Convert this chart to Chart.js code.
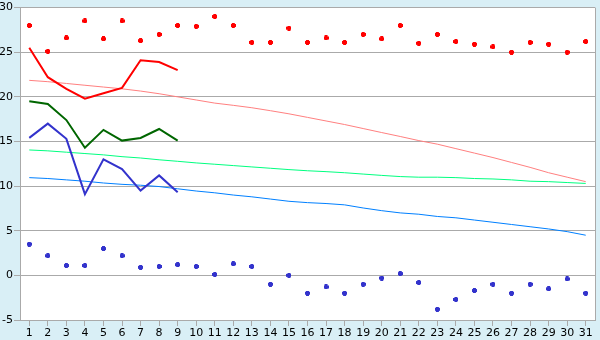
<!DOCTYPE html>
<html>
<head>
<meta charset="utf-8">
<script src="https://cdn.jsdelivr.net/npm/chart.js@4.4.0/dist/chart.umd.min.js"></script>
<style>
  html, body { margin: 0; padding: 0; background: #d9eff6; }
  #wrap { width: 600px; height: 340px; }
</style>
</head>
<body>
<div id="wrap"><canvas id="chart" width="600" height="340"></canvas></div>
<script>
// days of the month
var days = [];
for (var d = 1; d <= 31; d++) days.push(String(d));

// daily max / min (markers)
var maxPoints = [28.0, 25.1, 26.6, 28.5, 26.5, 28.5, 26.3, 27.0, 28.0, 27.9,
                 29.0, 28.0, 26.1, 26.1, 27.7, 26.1, 26.6, 26.1, 27.0, 26.5,
                 28.0, 26.0, 27.0, 26.2, 25.9, 25.6, 25.0, 26.1, 25.9, 25.0, 26.2];
var minPoints = [3.5, 2.2, 1.1, 1.1, 3.0, 2.2, 0.9, 1.0, 1.2, 1.0,
                 0.1, 1.3, 1.0, -1.0, 0.0, -2.0, -1.3, -2.0, -1.0, -0.3,
                 0.2, -0.8, -3.8, -2.7, -1.7, -1.0, -2.0, -1.0, -1.5, -0.4, -2.0];

// current month lines (days 1-9)
var maxLine  = [25.5, 22.2, 20.9, 19.8, 20.4, 21.0, 24.1, 23.9, 23.0];
var meanLine = [19.5, 19.2, 17.4, 14.3, 16.3, 15.1, 15.4, 16.4, 15.1];
var minLine  = [15.4, 17.0, 15.3, 9.1, 13.0, 11.9, 9.5, 11.2, 9.3];

// normals
var normMax  = [21.85, 21.7, 21.5, 21.3, 21.1, 20.9, 20.65, 20.35, 20.0, 19.65,
                19.3, 19.05, 18.78, 18.45, 18.1, 17.7, 17.3, 16.9, 16.45, 16.0,
                15.56, 15.1, 14.7, 14.2, 13.7, 13.2, 12.65, 12.1, 11.5, 11.0, 10.5];
var normMean = [14.05, 13.95, 13.8, 13.65, 13.5, 13.3, 13.15, 12.95, 12.78, 12.6,
                12.45, 12.3, 12.15, 12.0, 11.85, 11.72, 11.62, 11.5, 11.35, 11.2,
                11.07, 11.0, 11.0, 10.95, 10.85, 10.8, 10.7, 10.55, 10.5, 10.4, 10.3];
var normMin  = [10.95, 10.85, 10.7, 10.55, 10.35, 10.2, 10.1, 9.95, 9.7, 9.45,
                9.25, 9.0, 8.8, 8.55, 8.3, 8.15, 8.05, 7.9, 7.55, 7.25,
                7.0, 6.85, 6.6, 6.45, 6.2, 5.95, 5.7, 5.45, 5.2, 4.9, 4.5];

var yTicks = [-5, 0, 5, 10, 15, 20, 25, 30];

function marker(color) {
    var c = document.createElement('canvas');
    c.width = 5; c.height = 5;
    var g = c.getContext('2d');
    g.fillStyle = color;
    g.fillRect(1, 0, 3, 5);
    g.fillRect(0, 1, 5, 3);
    return c;
}

// white plot area + right border
var plotBg = {
    id: 'plotBg',
    beforeDraw: function(chart) {
        var a = chart.chartArea, ctx = chart.ctx;
        ctx.save();
        ctx.fillStyle = '#ffffff';
        ctx.fillRect(a.left, a.top, a.right - a.left, a.bottom - a.top);
        ctx.strokeStyle = '#aaaaaa';
        ctx.lineWidth = 1;
        ctx.beginPath();
        ctx.moveTo(Math.round(a.right) + 0.5, a.top);
        ctx.lineTo(Math.round(a.right) + 0.5, a.bottom);
        ctx.stroke();
        ctx.restore();
    }
};

function lineDs(data, color, width) {
    return { data: data, borderColor: color, borderWidth: width, pointRadius: 0, tension: 0, fill: false };
}
function pointDs(data, color) {
    return { data: data, showLine: false, pointStyle: marker(color), pointRadius: 3,
             borderColor: color, backgroundColor: color };
}

Chart.defaults.font.family = 'DejaVu Sans';
Chart.defaults.font.size = 11;
Chart.defaults.color = '#000000';

var ctx = document.getElementById('chart').getContext('2d');
var chart = new Chart(ctx, {
    type: 'line',
    data: {
        labels: days,
        datasets: [
            pointDs(maxPoints, '#ff0000'),
            pointDs(minPoints, '#3333cc'),
            lineDs(maxLine, '#ff0000', 2),
            lineDs(meanLine, '#006600', 2),
            lineDs(minLine, '#3333cc', 2),
            lineDs(normMax, '#ff8080', 1),
            lineDs(normMean, '#00ff80', 1),
            lineDs(normMin, '#0080ff', 1)
        ]
    },
    options: {
        responsive: false,
        animation: false,
        layout: { padding: { top: 5, right: 5, left: 0, bottom: 0 } },
        plugins: { legend: { display: false }, tooltip: { enabled: false } },
        scales: {
            x: {
                offset: true,
                grid: { offset: false, drawOnChartArea: false, drawTicks: true, tickLength: 6, color: '#aaaaaa' },
                border: { color: '#aaaaaa' },
                ticks: { padding: 1, autoSkip: false, maxRotation: 0 },
                afterFit: function(s) { s.height = 20; }
            },
            y: {
                min: -5, max: 30,
                afterBuildTicks: function(s) { s.ticks = yTicks.map(function(v) { return { value: v }; }); },
                grid: { color: '#aaaaaa', tickLength: 6 },
                border: { color: '#aaaaaa' },
                ticks: { padding: 1 },
                afterFit: function(s) { s.width = 20; }
            }
        }
    },
    plugins: [plotBg]
});
</script>
</body>
</html>
